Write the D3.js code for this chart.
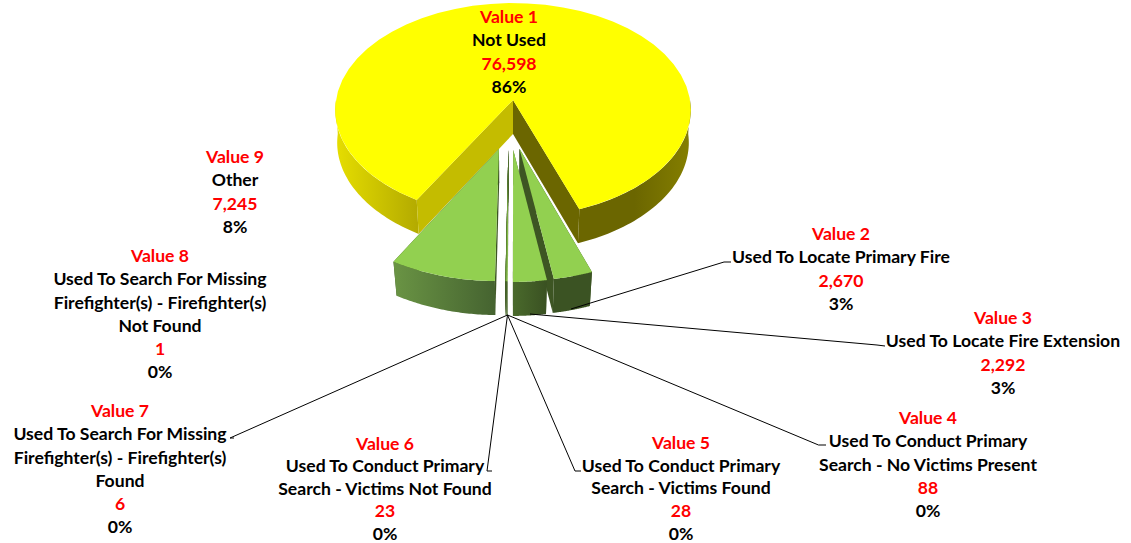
<!DOCTYPE html>
<meta charset="utf-8">
<style>
html, body { margin: 0; background: #fff; }
svg { display: block; }
text { font-family: Lato, "Open Sans", sans-serif; font-weight: 700; font-size: 17.6px; }
.leader { fill: none; stroke: #000; stroke-width: 1px; }
</style>
<svg width="1131" height="543"></svg>
<script src="https://d3js.org/d3.v7.min.js"></script>
<script>
// data
var seriesNames = ["Value 1","Value 2","Value 3","Value 4","Value 5","Value 6","Value 7","Value 8","Value 9"];
var values = [76598, 2670, 2292, 88, 28, 23, 6, 1, 7245];
var categories = [
  ["Not Used"],
  ["Used To Locate Primary Fire"],
  ["Used To Locate Fire Extension"],
  ["Used To Conduct Primary", "Search - No Victims Present"],
  ["Used To Conduct Primary", "Search - Victims Found"],
  ["Used To Conduct Primary", "Search - Victims Not Found"],
  ["Used To Search For Missing", "Firefighter(s) - Firefighter(s)", "Found"],
  ["Used To Search For Missing", "Firefighter(s) - Firefighter(s)", "Not Found"],
  ["Other"]
];

// layout, one entry per slice
var labelX = [509, 841, 1003, 928, 681, 385, 120, 160, 235];
var labelY = [17, 234, 318, 418, 443, 443.5, 411, 256, 157];
var lineStep = [23.2, 23.2, 23.2, 23.2, 22.6, 22.5, 23.2, 23.2, 23.2];
var explodeX = [0, 0.035, 0.001, -0.025, -0.025, -0.025, -0.025, -0.025, -0.076];
var explodeY = [0, 0.441, 0.449, 0.445, 0.445, 0.445, 0.445, 0.445, 0.443];
var radius = [1, 1.03, 1.03, 1.03, 1.03, 1.03, 1.03, 1.03, 1.03];
var leaders = [
  null,
  [[731,262],[724,262],[571,309]],
  [[885,346],[877,345],[530,314]],
  [[826,445],[818.5,445],[507.5,315]],
  [[581,471],[575,471],[507.5,315]],
  [[492,471],[487,471],[507.5,315]],
  [[234,438],[230,438],[507.5,315]],
  null,
  null
];
var rimStops = [
  null,
  ["#3b5323", "#3b5323"],
  ["#4a6a2c", "#3a5122"],
  ["#4a6a2c", "#4a6a2c"],
  ["#4a6a2c", "#4a6a2c"],
  ["#4a6a2c", "#4a6a2c"],
  ["#4a6a2c", "#4a6a2c"],
  ["#4a6a2c", "#4a6a2c"],
  ["#6a9444", "#456330"]
];

var svg = d3.select("svg");
var defs = svg.append("defs");

// perspective of the disc plane: circle -> ellipse with the centre pushed up
var cx = 513, cy = 100, f = 177, g = 106, k = 0.0935, depth = 34;

function project(p, bottom) {
  var w = 1 - k * p[1];
  var sx = bottom ? 0.99 - 0.012 * p[1] : 1;
  return [cx + sx * f * p[0] / w, cy + g * p[1] / w + (bottom ? depth : 0)];
}

var line = d3.line();

function outline(pts, bottom) {
  return pts.map(function(p) { return project(p, bottom); });
}

function polar(i, a) {
  return [explodeX[i] + radius[i] * Math.sin(a), explodeY[i] - radius[i] * Math.cos(a)];
}

function arcPoints(i, a0, a1) {
  return d3.range(0, 49).map(function(j) { return polar(i, a0 + (a1 - a0) * j / 48); });
}

function gradient(id, stops) {
  var lg = defs.append("linearGradient").attr("id", id);
  stops.forEach(function(c, i) {
    lg.append("stop").attr("offset", i / (stops.length - 1)).attr("stop-color", c);
  });
  return "url(#" + id + ")";
}

function face(pts, fill) {
  svg.append("path").attr("d", line(pts) + "Z").attr("fill", fill);
}

function rimFace(i, a0, a1, fill) {
  var pts = arcPoints(i, a0, a1);
  face(outline(pts, false).concat(outline(pts, true).reverse()), fill);
}

function cutFace(i, a, fill) {
  var pts = [[explodeX[i], explodeY[i]], polar(i, a)];
  face(outline(pts, false).concat(outline(pts, true).reverse()), fill);
}

function topFace(i, a0, a1, fill) {
  var pts = arcPoints(i, a0, a1);
  face(outline([[explodeX[i], explodeY[i]]], false).concat(outline(pts, false)), fill);
}

var rad = Math.PI / 180;
var pie = d3.pie().sort(null).value(function(d) { return d; })
    .startAngle(210 * rad).endAngle(570 * rad);
var arcs = pie(values);

// big slice first, it sits behind the pulled out ones
var big = arcs[0];
rimFace(0, 210 * rad, 270 * rad, gradient("rimL", ["#e6de00", "#b3aa00"]));
rimFace(0, 450 * rad, big.endAngle, gradient("rimR", ["#6b6600", "#6b6600", "#857f00"]));
cutFace(0, big.startAngle, "#c4bc00");
cutFace(0, big.endAngle, "#6b6600");
topFace(0, big.startAngle, big.endAngle, "#ffff00");

// pulled out slices, left one first and Value 3 over the side of Value 2
[8, 7, 6, 5, 4, 3, 1, 2].forEach(function(i) {
  var s = arcs[i];
  cutFace(i, s.startAngle, "#3d5523");
  cutFace(i, s.endAngle, "#3d5523");
  rimFace(i, s.startAngle, s.endAngle, gradient("rim" + i, rimStops[i]));
  topFace(i, s.startAngle, s.endAngle, "#92d050");
});

// leader lines
leaders.forEach(function(l) {
  if (l) svg.append("path").attr("class", "leader").attr("d", line(l));
});

// labels
var total = d3.sum(values), fmt = d3.format(","), pct = d3.format(".0%");
values.forEach(function(v, i) {
  var rows = [{ t: seriesNames[i], c: "#ff0000" }]
    .concat(categories[i].map(function(t) { return { t: t, c: "#000" }; }))
    .concat([{ t: fmt(v), c: "#ff0000" }, { t: pct(v / total), c: "#000" }]);
  svg.selectAll(null).data(rows).enter().append("text")
      .attr("x", labelX[i])
      .attr("y", function(d, j) { return labelY[i] + j * lineStep[i]; })
      .attr("dy", ".35em")
      .attr("text-anchor", "middle")
      .attr("fill", function(d) { return d.c; })
      .text(function(d) { return d.t; });
});
</script>
